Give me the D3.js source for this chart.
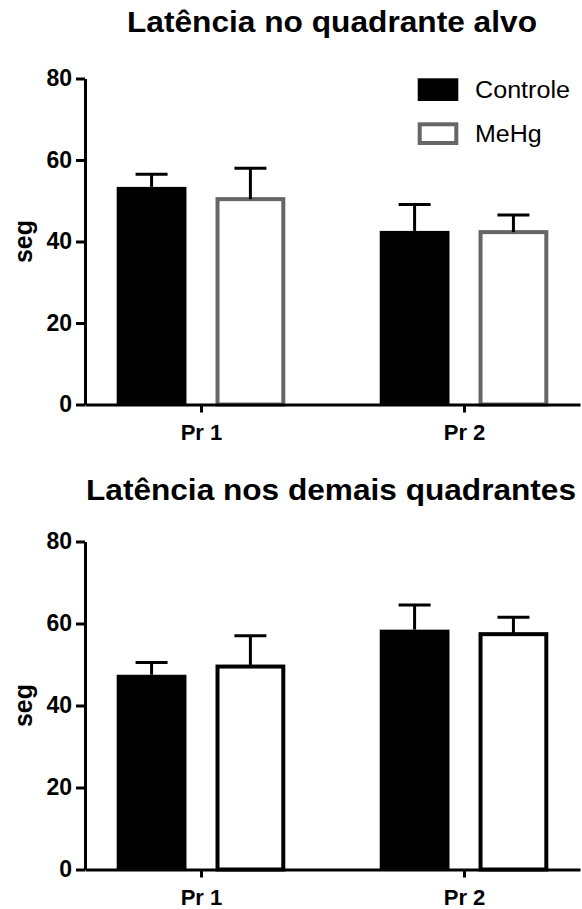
<!DOCTYPE html>
<html>
<head>
<meta charset="utf-8">
<script src="https://cdn.jsdelivr.net/npm/d3@7"></script>
<style>
  body { margin: 0; background: #fff; }
  svg { display: block; font-family: "Liberation Sans", Arial, sans-serif; }
</style>
</head>
<body>
<div class="displayContainer"></div>
<script>
// data
const groups = ['Pr 1', 'Pr 2'];
const series = ['Controle', 'MeHg'];
const yTicks = [0, 20, 40, 60, 80];

// panel 1 - latencia no quadrante alvo
const alvoMean = [[53.4, 50.4], [42.6, 42.3]];
const alvoErr = [[3.1, 7.6], [6.5, 4.2]];

// panel 2 - latencia nos demais quadrantes
const demaisMean = [[47.5, 49.5], [58.5, 57.4]];
const demaisErr = [[3.0, 7.5], [6.0, 4.1]];

const svg = d3.select('.displayContainer')
              .append('svg')
              .attr('width', 582)
              .attr('height', 909);

//draws one bar chart panel
function drawPanel(opt) {
    const y = d3.scaleLinear()
                .domain([0, 80])
                .range([opt.bottom, opt.top]);

    const x = d3.scalePoint()
                .domain(groups)
                .range([85, 580])
                .padding(0.441);

    const sub = d3.scaleBand()
                  .domain(series)
                  .range([-84.3, 84.3])
                  .paddingInner(0.294);

    const g = svg.append('g');

    // title
    g.append('text')
        .attr('x', opt.titleX)
        .attr('y', opt.titleY)
        .attr('text-anchor', 'middle')
        .attr('textLength', opt.titleW)
        .attr('lengthAdjust', 'spacingAndGlyphs')
        .style('font-size', '29px')
        .style('font-weight', 'bold')
        .text(opt.title);

    // bars
    const rows = [];
    groups.forEach((grp, i) => {
        series.forEach((s, j) => {
            rows.push({ grp: grp, s: s, v: opt.mean[i][j], e: opt.err[i][j] });
        });
    });

    const bw = sub.bandwidth();

    g.selectAll('rect.bar')
        .data(rows)
        .enter()
        .append('rect')
        .attr('class', 'bar')
        .attr('x', d => d.s == 'Controle' ? x(d.grp) + sub(d.s) : x(d.grp) + sub(d.s) + 2)
        .attr('width', d => d.s == 'Controle' ? bw : bw - 4)
        .attr('y', d => y(d.v))
        .attr('height', d => y(0) - y(d.v))
        .attr('fill', d => d.s == 'Controle' ? '#000' : '#fff')
        .attr('stroke', d => d.s == 'Controle' ? 'none' : opt.openStroke)
        .attr('stroke-width', 4);

    // error bars (upper only)
    const eb = g.selectAll('g.err')
        .data(rows)
        .enter()
        .append('g')
        .attr('class', 'err')
        .attr('stroke', '#000')
        .attr('stroke-width', 3);

    eb.append('line')
        .attr('x1', d => x(d.grp) + sub(d.s) + bw / 2)
        .attr('x2', d => x(d.grp) + sub(d.s) + bw / 2)
        .attr('y1', d => y(d.v))
        .attr('y2', d => y(d.v + d.e));

    eb.append('line')
        .attr('x1', d => x(d.grp) + sub(d.s) + bw / 2 - 16)
        .attr('x2', d => x(d.grp) + sub(d.s) + bw / 2 + 16)
        .attr('y1', d => y(d.v + d.e))
        .attr('y2', d => y(d.v + d.e));

    // axes
    const yAxis = d3.axisLeft(y)
                    .tickValues(yTicks)
                    .tickSize(9)
                    .tickSizeOuter(0)
                    .tickPadding(4);

    const yg = g.append('g')
        .attr('transform', 'translate(85,0)')
        .call(yAxis);

    const xAxis = d3.axisBottom(x)
                    .tickSize(8)
                    .tickSizeOuter(0)
                    .tickPadding(12);

    const xg = g.append('g')
        .attr('transform', `translate(0,${y(0)})`)
        .call(xAxis);

    [yg, xg].forEach(a => {
        a.selectAll('path, line').attr('stroke', '#000').attr('stroke-width', 3);
        a.selectAll('text')
            .attr('fill', '#000')
            .style('font-size', '23px')
            .style('font-weight', 'bold')
            .style('font-family', '"Liberation Sans", Arial, sans-serif');
    });
    xg.selectAll('text').style('font-size', '22px');

    // y label
    g.append('text')
        .attr('transform', `translate(32,${(opt.top + opt.bottom) / 2}) rotate(-90)`)
        .attr('text-anchor', 'middle')
        .style('font-size', '25px')
        .style('font-weight', 'bold')
        .text('seg');
}

drawPanel({
    title: 'Latência no quadrante alvo',
    titleX: 332, titleY: 32, titleW: 410,
    top: 78.5, bottom: 404.5,
    mean: alvoMean, err: alvoErr,
    openStroke: '#666'
});

drawPanel({
    title: 'Latência nos demais quadrantes',
    titleX: 331, titleY: 500, titleW: 490,
    top: 541.5, bottom: 869.5,
    mean: demaisMean, err: demaisErr,
    openStroke: '#000'
});

// legend (top panel only)
const legend = svg.append('g').attr('class', 'legend');
const legendY = [78.3, 122.3];

legend.selectAll('rect')
    .data(series)
    .enter()
    .append('rect')
    .attr('x', (d, i) => i == 0 ? 417.7 : 419.7)
    .attr('y', (d, i) => i == 0 ? legendY[i] : legendY[i] + 2)
    .attr('width', (d, i) => i == 0 ? 40.6 : 36.6)
    .attr('height', (d, i) => i == 0 ? 22.7 : 18.7)
    .attr('fill', (d, i) => i == 0 ? '#000' : '#fff')
    .attr('stroke', (d, i) => i == 0 ? 'none' : '#666')
    .attr('stroke-width', 4);

legend.selectAll('text')
    .data(series)
    .enter()
    .append('text')
    .attr('x', 475)
    .attr('y', (d, i) => legendY[i] + 20)
    .attr('textLength', (d, i) => i == 0 ? 95 : 66.7)
    .attr('lengthAdjust', 'spacingAndGlyphs')
    .style('font-size', '23px')
    .text(d => d);
</script>
</body>
</html>
